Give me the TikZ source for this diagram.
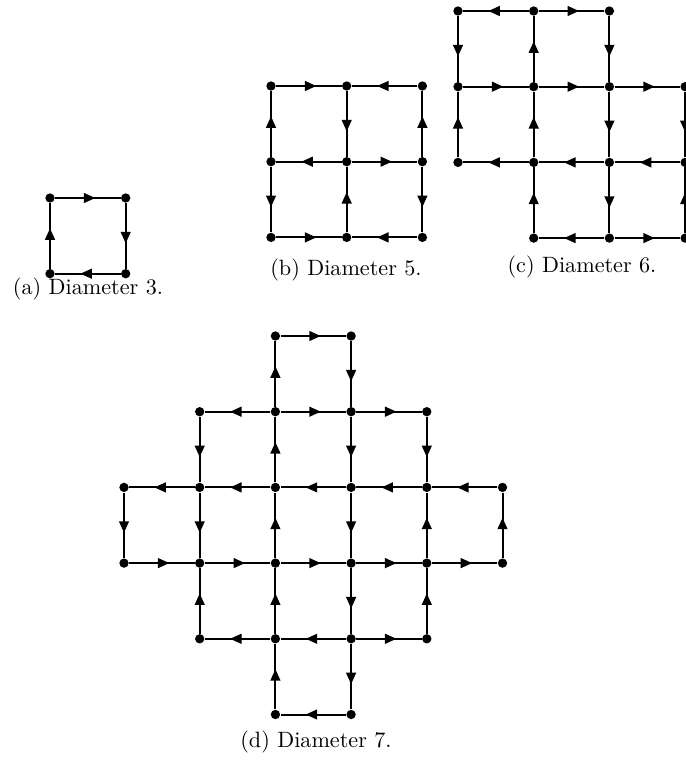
\documentclass[tikz,border=0pt]{standalone}
\usepackage{amsmath, amssymb}
\usetikzlibrary{arrows.meta,decorations.markings}

\tikzset{
  dot/.style={circle,fill=black,inner sep=0pt,minimum size=4.2pt},
  dedge/.style={line width=0.9pt,postaction={decorate},
    decoration={markings,mark=at position 0.5 with {\arrow[xshift=3.4pt]{Triangle[length=5.2pt,width=4.4pt]}}}},
}

\begin{document}
\begin{tikzpicture}[x=0.451pt,y=-0.451pt]
  \useasboundingbox (0,0) rectangle (686,760);
  \def\g{75.7}
  % (a) Diameter 3
  \begin{scope}[shift={(50,198)}]
    \foreach \i/\j in {0/0,1/0,0/1,1/1}
      \node[dot] (a\i\j) at (\i*\g,\j*\g) {};
    \draw[dedge] (a00) -- (a10);
    \draw[dedge] (a10) -- (a11);
    \draw[dedge] (a11) -- (a01);
    \draw[dedge] (a01) -- (a00);
  \end{scope}
  \node (capa) at (88,288.5) {(a) Diameter 3.};
  % (b) Diameter 5
  \begin{scope}[shift={(271,86)}]
    \foreach \i in {0,1,2}
      \foreach \j in {0,1,2}
        \node[dot] (b\i\j) at (\i*\g,\j*\g) {};
    \draw[dedge] (b00) -- (b10);
    \draw[dedge] (b20) -- (b10);
    \draw[dedge] (b01) -- (b00);
    \draw[dedge] (b10) -- (b11);
    \draw[dedge] (b21) -- (b20);
    \draw[dedge] (b11) -- (b01);
    \draw[dedge] (b11) -- (b21);
    \draw[dedge] (b01) -- (b02);
    \draw[dedge] (b12) -- (b11);
    \draw[dedge] (b21) -- (b22);
    \draw[dedge] (b02) -- (b12);
    \draw[dedge] (b22) -- (b12);
  \end{scope}
  \node (capb) at (346,269.5) {(b) Diameter 5.};
  % (c) Diameter 6
  \begin{scope}[shift={(458,11)}]
    \foreach \i/\j in {0/0,1/0,2/0,0/1,1/1,2/1,3/1,0/2,1/2,2/2,3/2,1/3,2/3,3/3}
      \node[dot] (c\i\j) at (\i*\g,\j*\g) {};
    \draw[dedge] (c10) -- (c00);
    \draw[dedge] (c10) -- (c20);
    \draw[dedge] (c00) -- (c01);
    \draw[dedge] (c11) -- (c10);
    \draw[dedge] (c20) -- (c21);
    \draw[dedge] (c01) -- (c11);
    \draw[dedge] (c11) -- (c21);
    \draw[dedge] (c21) -- (c31);
    \draw[dedge] (c02) -- (c01);
    \draw[dedge] (c12) -- (c11);
    \draw[dedge] (c21) -- (c22);
    \draw[dedge] (c31) -- (c32);
    \draw[dedge] (c12) -- (c02);
    \draw[dedge] (c22) -- (c12);
    \draw[dedge] (c32) -- (c22);
    \draw[dedge] (c13) -- (c12);
    \draw[dedge] (c22) -- (c23);
    \draw[dedge] (c33) -- (c32);
    \draw[dedge] (c23) -- (c13);
    \draw[dedge] (c23) -- (c33);
  \end{scope}
  \node (capc) at (582,267) {(c) Diameter 6.};
  % (d) Diameter 7
  \begin{scope}[shift={(124,336)}]
    \foreach \i/\j in {2/0,3/0,1/1,2/1,3/1,4/1,0/2,1/2,2/2,3/2,4/2,5/2,
                      0/3,1/3,2/3,3/3,4/3,5/3,1/4,2/4,3/4,4/4,2/5,3/5}
      \node[dot] (d\i\j) at (\i*\g,\j*\g) {};
    % top arm
    \draw[dedge] (d20) -- (d30);
    \draw[dedge] (d21) -- (d20);
    \draw[dedge] (d30) -- (d31);
    \draw[dedge] (d21) -- (d11);
    \draw[dedge] (d21) -- (d31);
    \draw[dedge] (d31) -- (d41);
    \draw[dedge] (d11) -- (d12);
    \draw[dedge] (d22) -- (d21);
    \draw[dedge] (d31) -- (d32);
    \draw[dedge] (d41) -- (d42);
    % middle rows
    \draw[dedge] (d12) -- (d02);
    \draw[dedge] (d22) -- (d12);
    \draw[dedge] (d32) -- (d22);
    \draw[dedge] (d42) -- (d32);
    \draw[dedge] (d52) -- (d42);
    \draw[dedge] (d02) -- (d03);
    \draw[dedge] (d12) -- (d13);
    \draw[dedge] (d23) -- (d22);
    \draw[dedge] (d32) -- (d33);
    \draw[dedge] (d43) -- (d42);
    \draw[dedge] (d53) -- (d52);
    \draw[dedge] (d03) -- (d13);
    \draw[dedge] (d13) -- (d23);
    \draw[dedge] (d23) -- (d33);
    \draw[dedge] (d33) -- (d43);
    \draw[dedge] (d43) -- (d53);
    % bottom arm
    \draw[dedge] (d14) -- (d13);
    \draw[dedge] (d24) -- (d23);
    \draw[dedge] (d33) -- (d34);
    \draw[dedge] (d44) -- (d43);
    \draw[dedge] (d24) -- (d14);
    \draw[dedge] (d34) -- (d24);
    \draw[dedge] (d34) -- (d44);
    \draw[dedge] (d25) -- (d24);
    \draw[dedge] (d34) -- (d35);
    \draw[dedge] (d35) -- (d25);
  \end{scope}
  \node (capd) at (316,742) {(d) Diameter 7.};
\end{tikzpicture}
\end{document}
